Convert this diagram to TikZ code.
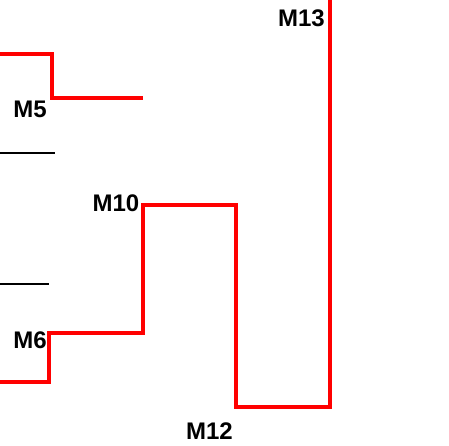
\documentclass[tikz,border=0pt]{standalone}
\usepackage{fontspec}
\setmainfont{Liberation Sans}
\usepackage{tikz}
\usetikzlibrary{calc}

\begin{document}
\begin{tikzpicture}[x=1pt,y=1pt,
		link/.style={red,line width=4pt},
		cut/.style={black,line width=2.8pt},
		lbl/.style={text=black,inner sep=0pt,font=\fontsize{24}{27}\selectfont\bfseries}]
	\useasboundingbox (0,0) rectangle (449,445);
	% corners of the branches
	\coordinate (a5) at (0,390.5);
	\coordinate (b5) at (52,390.5);
	\coordinate (c5) at (52,346.5);
	\coordinate (d5) at (143,346.5);
	\coordinate (a6) at (0,63);
	\coordinate (b6) at (49,63);
	\coordinate (c6) at (49,112);
	\coordinate (j10) at (143,112);
	\coordinate (t10) at (143,240.5);
	\coordinate (e10) at (235.5,240.5);
	\coordinate (j12) at (235.5,38);
	\coordinate (j13) at (330,38);
	\coordinate (t13) at (330,447);
	% labels
	\node[lbl] (M5) at (30,335.5) {M5};
	\node[lbl] (M6) at (30,104.5) {M6};
	\node[lbl] (M10) at (116,242) {M10};
	\node[lbl] (M12) at (209.5,13.5) {M12};
	\node[lbl] (M13) at (301.5,426.5) {M13};
	% branches
	\draw[link] (a5) -- (b5) -- (c5) -- (d5);
	\draw[link] (a6) -- (b6) -- (c6) -- (j10) -- (t10) -- (e10) -- (j12) -- (j13) -- (t13);
	\draw[cut] (0,292) -- (55,292);
	\draw[cut] (0,161) -- (49,161);
\end{tikzpicture}
\end{document}
